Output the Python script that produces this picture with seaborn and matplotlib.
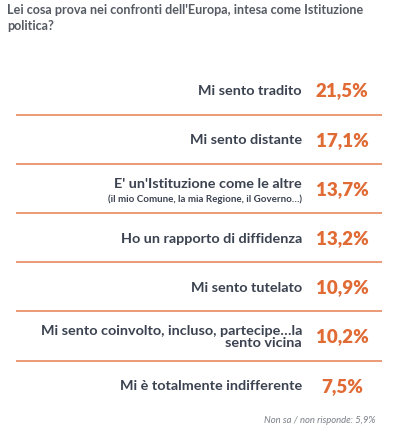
import matplotlib
matplotlib.use("Agg")
import matplotlib.pyplot as plt
import seaborn as sns

title = "Lei cosa prova nei confronti dell'Europa, intesa come Istituzione\npolitica?"
categories = [
    "Mi sento tradito",
    "Mi sento distante",
    "E' un'Istituzione come le altre",
    "Ho un rapporto di diffidenza",
    "Mi sento tutelato",
    "Mi sento coinvolto, incluso, partecipe…la\nsento vicina",
    "Mi è totalmente indifferente",
]
subnotes = ["", "", "(il mio Comune, la mia Regione, il Governo…)", "", "", "", ""]
values = [21.5, 17.1, 13.7, 13.2, 10.9, 10.2, 7.5]
footnote = "Non sa / non risponde: 5,9%"

sns.set_theme(style="white")
plt.rcParams['font.family'] = ['Lato', 'DejaVu Sans']

fig = plt.figure(figsize=(4.0, 4.35), dpi=100)
ax = fig.add_axes([0, 0, 1, 1])
ax.set_xlim(0, 400)
row_h = 49.2
top_c = 91
ax.set_ylim((435 - top_c) / row_h, -top_c / row_h)
ax.axis("off")

label_col = "#3b4250"
val_col = "#e06b35"
line_col = "#eb9a76"

fig.text(7 / 400, 1 - 4 / 435, title, ha="left", va="top", fontsize=9.1,
         fontweight="bold", color="#555a63", linespacing=1.35)

for i, (cat, sub, v) in enumerate(zip(categories, subnotes, values)):
    y = i
    if sub:
        ax.text(302, y - 0.1, cat, ha="right", va="center", fontsize=10.4,
                fontweight="bold", color=label_col)
        ax.text(302, y + 0.2, sub, ha="right", va="center", fontsize=7,
                fontweight="bold", color=label_col)
    else:
        ax.text(302, y, cat, ha="right", va="center", fontsize=10.4,
                fontweight="bold", color=label_col, linespacing=1.05)
    ax.text(342, y, f"{v:.1f}%".replace(".", ","), ha="center", va="center",
            fontsize=13.5, fontweight="heavy", color=val_col)
    if i < len(categories) - 1:
        ax.plot([16, 382], [y + 0.5, y + 0.5], color=line_col, lw=1.4,
                solid_capstyle="butt")

fig.text(376 / 400, 1 - 421 / 435, footnote, ha="right", va="center",
         fontsize=6.8, fontstyle="italic", color="#7a7f88")

fig.savefig("out.png", dpi=100)
